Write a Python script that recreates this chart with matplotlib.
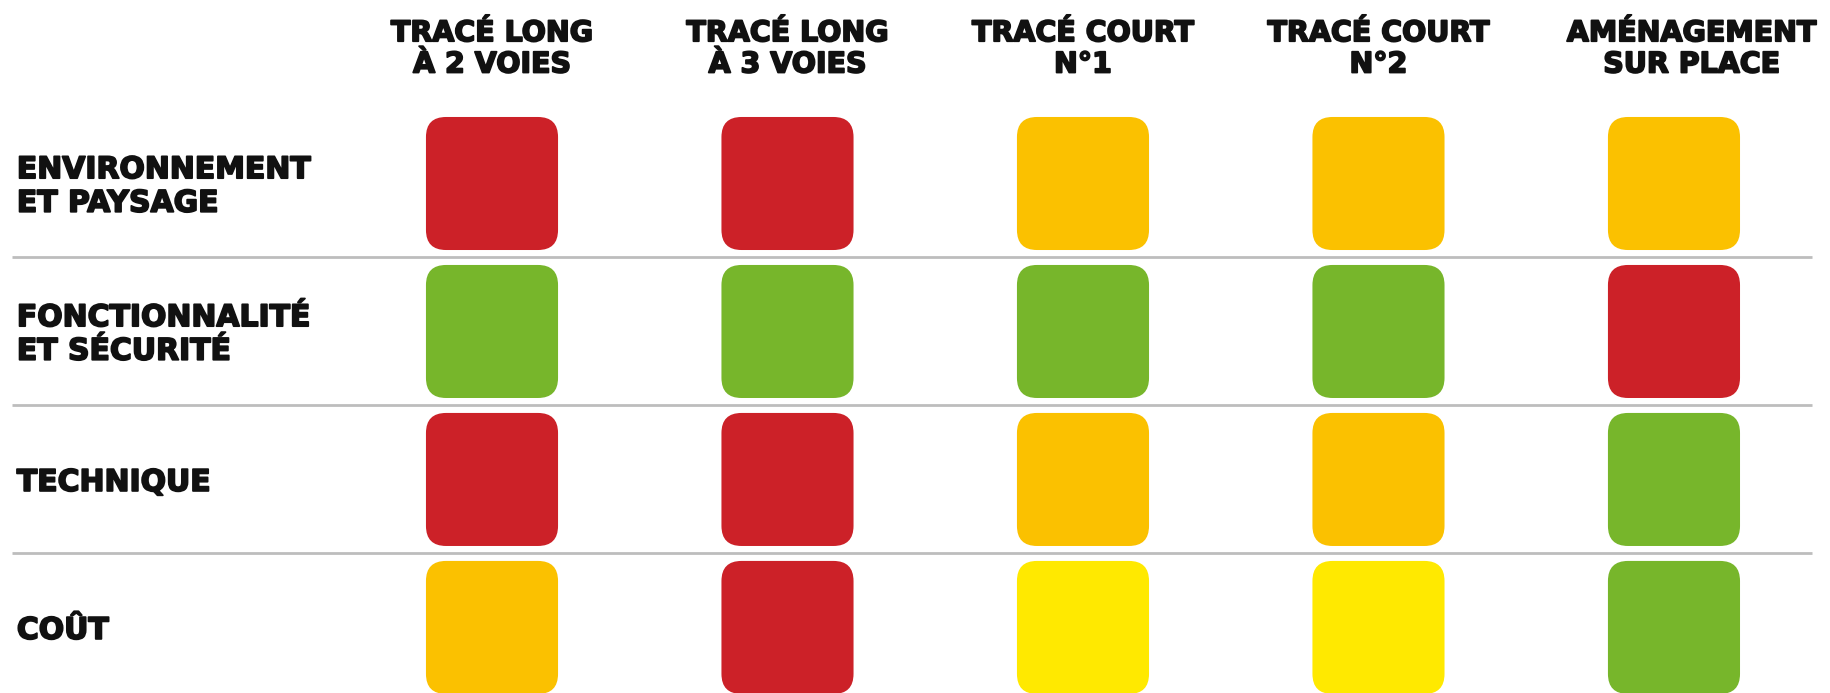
import matplotlib
matplotlib.use("Agg")
import matplotlib.pyplot as plt
import matplotlib.patheffects as pe
from matplotlib.patches import FancyBboxPatch

# Data
criteres = ["ENVIRONNEMENT\nET PAYSAGE", "FONCTIONNALITÉ\nET SÉCURITÉ", "TECHNIQUE", "COÛT"]
variantes = ["TRACÉ LONG\nÀ 2 VOIES", "TRACÉ LONG\nÀ 3 VOIES", "TRACÉ COURT\nN°1",
             "TRACÉ COURT\nN°2", "AMÉNAGEMENT\nSUR PLACE"]
# one list per criterion, one rating per variant
environnement = ["rouge", "rouge", "orange", "orange", "orange"]
fonctionnalite = ["vert", "vert", "vert", "vert", "rouge"]
technique = ["rouge", "rouge", "orange", "orange", "vert"]
cout = ["orange", "rouge", "jaune", "jaune", "vert"]
notes = [environnement, fonctionnalite, technique, cout]

couleurs = {"rouge": "#CC2128", "orange": "#FBC100", "jaune": "#FFE900", "vert": "#77B62B"}

font = ["DejaVu Sans"]
# thicken the bold a bit, the original uses a black weight
epais = [pe.withStroke(linewidth=1.3, foreground="#111111")]

fig = plt.figure(figsize=(18.3, 6.93), dpi=100)
ax = fig.add_axes([0, 0, 1, 1])
ax.set_xlim(-1.665, 4.528)
ax.set_ylim(3.443, -1.240)
ax.axis("off")

# box size in data units
bw, bh = 0.447, 0.899
r = 0.068

for j, ligne in enumerate(notes):
    for i, note in enumerate(ligne):
        p = FancyBboxPatch((i - bw / 2, j - bh / 2), bw, bh,
                           boxstyle=f"round,pad=0,rounding_size={r}",
                           mutation_aspect=295.5 / 148,
                           facecolor=couleurs[note], edgecolor="none")
        ax.add_patch(p)

# separators between rows
ax.hlines([j + 0.5 for j in range(len(criteres) - 1)], -1.624, 4.467,
          color="#BDBDBD", linewidth=2)

for j, c in enumerate(criteres):
    ax.text(-1.608, j + 0.02, c, ha="left", va="center", fontsize=21.5,
            fontweight="bold", family=font, linespacing=1.2, color="#111111",
            path_effects=epais)

for i, v in enumerate(variantes):
    dx = 0.06 if i == len(variantes) - 1 else 0
    ax.text(i + dx, -0.75, v, ha="center", va="baseline", fontsize=20.5,
            fontweight="bold", family=font, linespacing=1.15, color="#111111",
            multialignment="center", path_effects=epais)

fig.savefig("out.png", dpi=100)
